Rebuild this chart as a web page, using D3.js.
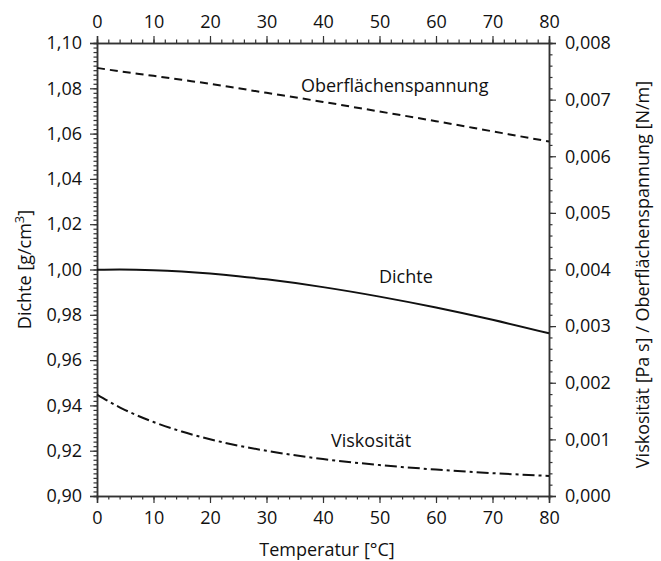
<!DOCTYPE html>
<html>
<head>
<meta charset="utf-8">
<script src="https://cdn.jsdelivr.net/npm/d3@7/dist/d3.min.js"></script>
<style>
  html, body { margin: 0; padding: 0; background: #fff; }
  svg { display: block; }
  text { font-family: "Open Sans", "Noto Sans", sans-serif; fill: #111; }
</style>
</head>
<body>
<svg id="chart" width="661" height="561"></svg>
<script>
// Temperature samples [°C]
const temperature = [0, 4, 10, 15, 20, 25, 30, 40, 50, 60, 70, 80];

// Density of water [g/cm³] (left axis)
const density = [0.99984, 0.99997, 0.99970, 0.99910, 0.99821, 0.99705, 0.99565, 0.99222, 0.98803, 0.98320, 0.97778, 0.97182];

// Dynamic viscosity [Pa s] (right axis)
const viscosity = [0.001792, 0.001567, 0.001307, 0.001138, 0.001002, 0.000890, 0.000798, 0.000653, 0.000547, 0.000467, 0.000404, 0.000355];

// Surface tension, as plotted against the right axis
const surfaceTension = [0.00756, 0.00750, 0.00742, 0.00735, 0.00728, 0.00720, 0.00712, 0.00696, 0.00679, 0.00662, 0.00644, 0.00626];

// Tick labels
const xTicks = [0, 10, 20, 30, 40, 50, 60, 70, 80];
const leftTicks = [0.90, 0.92, 0.94, 0.96, 0.98, 1.00, 1.02, 1.04, 1.06, 1.08, 1.10];
const rightTicks = [0.000, 0.001, 0.002, 0.003, 0.004, 0.005, 0.006, 0.007, 0.008];

const svg = d3.select("#chart");
const m = { left: 97, right: 549, top: 43, bottom: 496 };

const x = d3.scaleLinear().domain([0, 80]).range([m.left, m.right]);
const yL = d3.scaleLinear().domain([0.90, 1.10]).range([m.bottom, m.top]);
const yR = d3.scaleLinear().domain([0, 0.008]).range([m.bottom, m.top]);

const comma = (d, n) => d3.format("." + n + "f")(d).replace(".", ",");
const axisColor = "#333";
const fs = "18px";

// Minor ticks (drawn first, then major ticks and labels)
function minor(axisFn, scale, values) {
  return axisFn(scale).tickValues(values).tickSize(3.5).tickFormat("");
}
const xMinor = d3.range(0, 81, 2);
const lMinor = d3.range(0, 101).map(i => 0.90 + i * 0.002);
const rMinor = d3.range(0, 41).map(i => i * 0.0002);

svg.append("g").attr("transform", `translate(0,${m.bottom})`)
  .call(minor(d3.axisBottom, x, xMinor));
svg.append("g").attr("transform", `translate(0,${m.bottom})`)
  .call(d3.axisBottom(x).tickValues(xTicks).tickSize(7).tickPadding(8).tickFormat(d3.format("d")));

svg.append("g").attr("transform", `translate(0,${m.top})`)
  .call(minor(d3.axisTop, x, xMinor));
svg.append("g").attr("transform", `translate(0,${m.top})`)
  .call(d3.axisTop(x).tickValues(xTicks).tickSize(7).tickPadding(8).tickFormat(d3.format("d")));

svg.append("g").attr("transform", `translate(${m.left},0)`)
  .call(minor(d3.axisLeft, yL, lMinor));
svg.append("g").attr("transform", `translate(${m.left},0)`)
  .call(d3.axisLeft(yL).tickValues(leftTicks).tickSize(7).tickPadding(8).tickFormat(d => comma(d, 2)));

svg.append("g").attr("transform", `translate(${m.right},0)`)
  .call(minor(d3.axisRight, yR, rMinor));
svg.append("g").attr("transform", `translate(${m.right},0)`)
  .call(d3.axisRight(yR).tickValues(rightTicks).tickSize(7).tickPadding(9).tickFormat(d => comma(d, 3)));

svg.selectAll(".domain").attr("stroke", axisColor).attr("stroke-width", 1.5);
svg.selectAll(".tick line").attr("stroke", axisColor).attr("stroke-width", 1.2);
svg.selectAll(".tick text").attr("font-size", fs).attr("fill", "#111")
  .style("font-family", '"Open Sans", sans-serif');

// Curves
const pts = vals => temperature.map((t, i) => [t, vals[i]]);
const lineL = d3.line().x(d => x(d[0])).y(d => yL(d[1])).curve(d3.curveMonotoneX);
const lineR = d3.line().x(d => x(d[0])).y(d => yR(d[1])).curve(d3.curveMonotoneX);

svg.append("path").datum(pts(density)).attr("d", lineL)
  .attr("fill", "none").attr("stroke", "#111").attr("stroke-width", 2);
svg.append("path").datum(pts(surfaceTension)).attr("d", lineR)
  .attr("fill", "none").attr("stroke", "#111").attr("stroke-width", 2)
  .attr("stroke-dasharray", "8,5");
svg.append("path").datum(pts(viscosity)).attr("d", lineR)
  .attr("fill", "none").attr("stroke", "#111").attr("stroke-width", 2)
  .attr("stroke-dasharray", "12,4,3,4");

// Curve labels
svg.append("text").attr("x", 301).attr("y", 92).attr("font-size", fs).text("Oberflächenspannung");
svg.append("text").attr("x", 379).attr("y", 283).attr("font-size", fs).text("Dichte");
svg.append("text").attr("x", 331).attr("y", 447).attr("font-size", fs).text("Viskosität");

// Axis titles
svg.append("text").attr("x", (m.left + m.right) / 2 + 4).attr("y", 556)
  .attr("text-anchor", "middle").attr("font-size", fs).text("Temperatur [°C]");

const lt = svg.append("text")
  .attr("transform", `translate(31,${(m.top + m.bottom) / 2}) rotate(-90)`)
  .attr("text-anchor", "middle").attr("font-size", fs);
lt.append("tspan").text("Dichte [g/cm");
lt.append("tspan").attr("dy", -7).attr("font-size", "13px").text("3");
lt.append("tspan").attr("dy", 7).text("]");

svg.append("text")
  .attr("transform", `translate(649,${(m.top + m.bottom) / 2 + 5}) rotate(-90)`)
  .attr("text-anchor", "middle").attr("font-size", fs)
  .text("Viskosität [Pa s] / Oberflächenspannung [N/m]");
</script>
</body>
</html>
